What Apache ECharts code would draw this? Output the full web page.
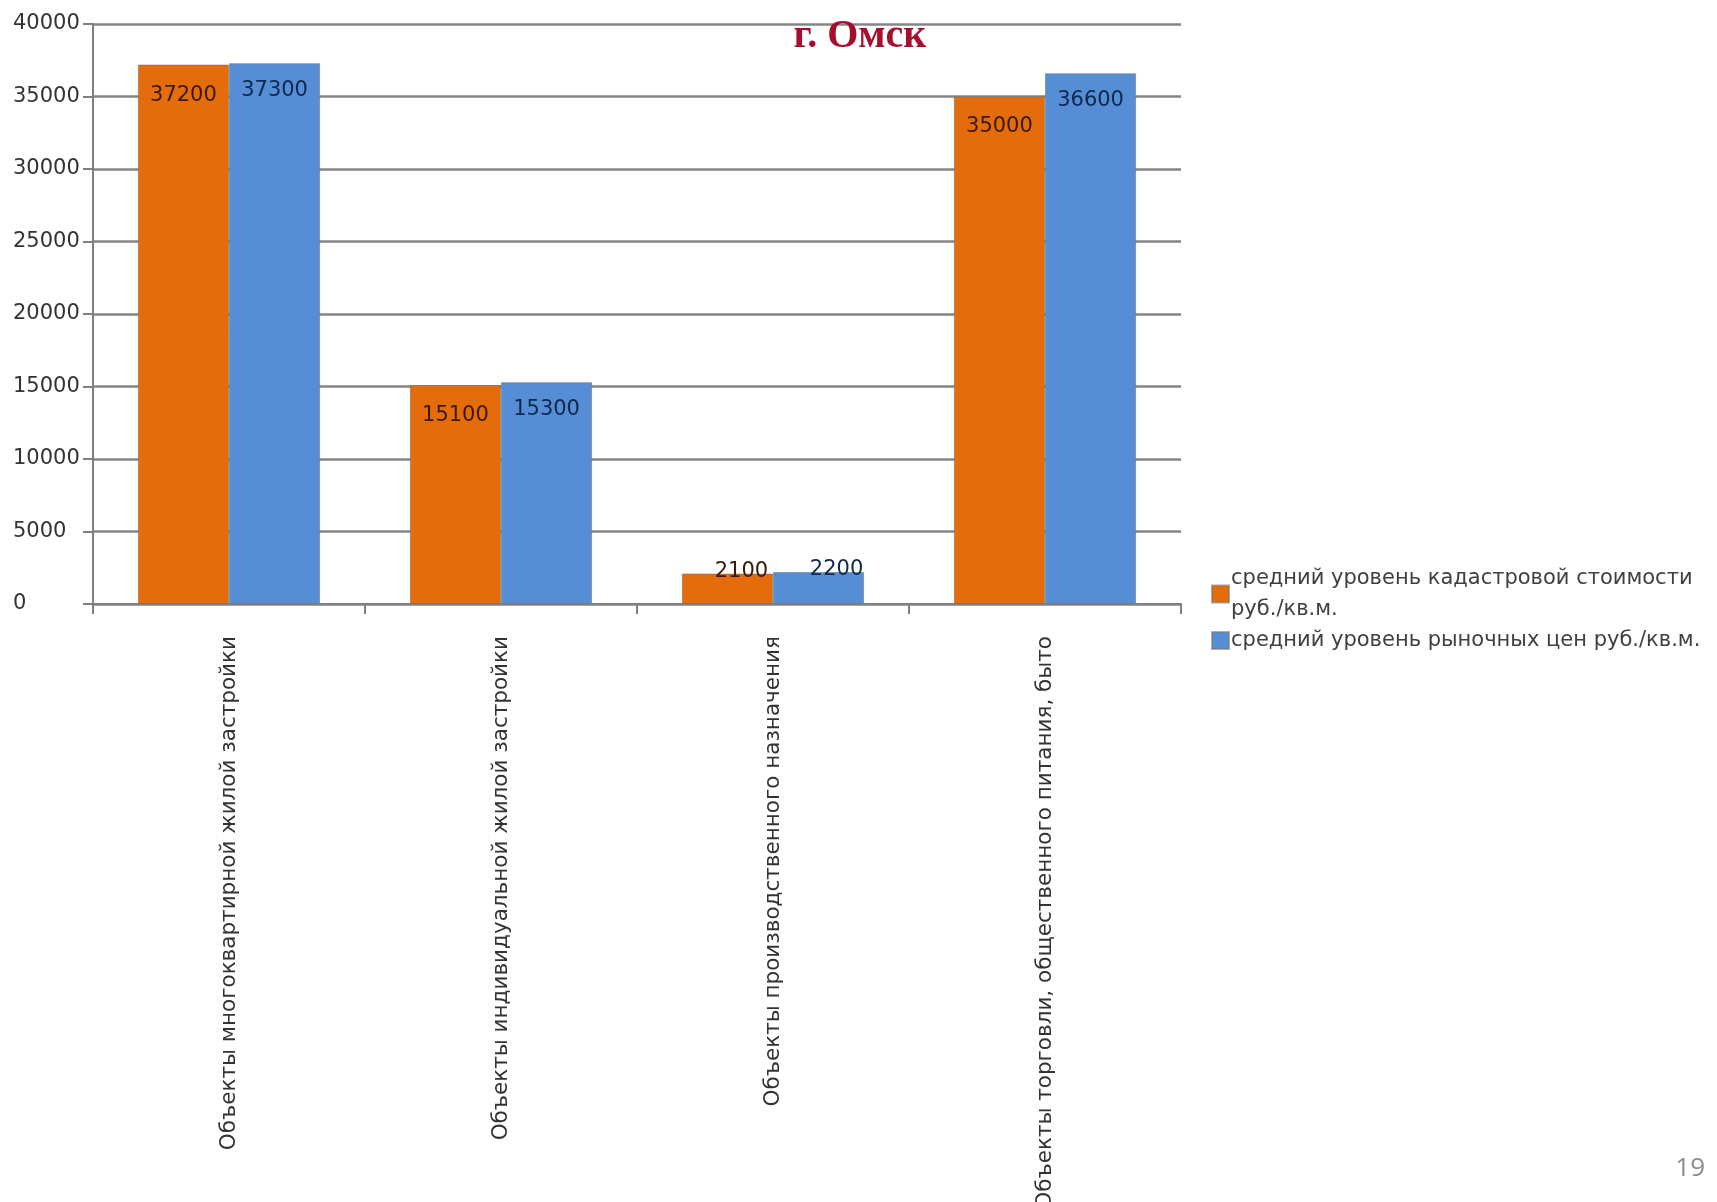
<!DOCTYPE html>
<html>
<head>
<meta charset="utf-8">
<script src="https://cdn.jsdelivr.net/npm/echarts@6/dist/echarts.min.js"></script>
<style>
html,body{margin:0;padding:0;background:#fff;}
#chart{width:1717px;height:1202px;}
</style>
</head>
<body>
<div id="chart"></div>
<script>
const titleText = 'г. Омск';
const categories = [
  'Объекты многоквартирной жилой застройки',
  'Объекты индивидуальной жилой застройки',
  'Объекты производственного назначения',
  'Объекты торговли, общественного питания, быто'
];
const seriesNames = [
  'средний уровень кадастровой стоимости руб./кв.м.',
  'средний уровень рыночных цен руб./кв.м.'
];
const cadastral = [37200, 15100, 2100, 35000];
const market = [37300, 15300, 2200, 36600];
const yTicks = [0, 5000, 10000, 15000, 20000, 25000, 30000, 35000, 40000];
const pageNumber = '19';

const FONT = 'DejaVu Sans';

function buildData(values, labelColor, smallOffset) {
  return values.map(v => {
    if (v < 5000) {
      return {
        value: v,
        label: { position: 'top', distance: -8, offset: [smallOffset, 0], color: labelColor }
      };
    }
    return { value: v };
  });
}

const chart = echarts.init(document.getElementById('chart'));
chart.setOption({
  animation: false,
  backgroundColor: '#ffffff',
  title: {
    text: titleText,
    left: 855,
    top: 12,
    textAlign: 'center',
    textStyle: {
      fontFamily: 'Liberation Serif',
      fontWeight: 'bold',
      fontSize: 40,
      color: '#A50F2D'
    }
  },
  legend: {
    orient: 'vertical',
    left: 1206,
    top: 558,
    itemGap: 0,
    itemWidth: 17,
    itemHeight: 17,
    icon: 'rect',
    data: seriesNames,
    formatter: function (name) {
      return name === seriesNames[0]
        ? 'средний уровень кадастровой стоимости\nруб./кв.м.'
        : name;
    },
    textStyle: {
      fontFamily: FONT,
      fontSize: 21,
      lineHeight: 31,
      color: '#404040',
      padding: [0, 0, 0, -3]
    }
  },
  grid: { left: 93, top: 24, width: 1088, height: 580, containLabel: false, outerBoundsMode: 'none' },
  xAxis: {
    type: 'category',
    data: categories,
    axisLine: { show: true, lineStyle: { color: '#7f7f7f', width: 2 } },
    axisTick: { show: true, alignWithLabel: false, length: 10, lineStyle: { color: '#7f7f7f', width: 2 } },
    axisLabel: {
      rotate: 90,
      interval: 0,
      margin: 32,
      fontFamily: FONT,
      fontSize: 21.5,
      color: '#333333'
    }
  },
  yAxis: {
    type: 'value',
    min: yTicks[0],
    max: yTicks[yTicks.length - 1],
    interval: yTicks[1] - yTicks[0],
    axisLine: { show: true, lineStyle: { color: '#7f7f7f', width: 2 } },
    axisTick: { show: true, length: 10, lineStyle: { color: '#7f7f7f', width: 2 } },
    splitLine: { show: true, lineStyle: { color: '#858585', width: 2.5 } },
    axisLabel: {
      align: 'left',
      margin: 80,
      fontFamily: FONT,
      fontSize: 21,
      color: '#333333',
      formatter: function (v) { return String(v); }
    }
  },
  series: [
    {
      name: seriesNames[0],
      type: 'bar',
      barGap: '0%',
      barCategoryGap: '33%',
      data: buildData(cadastral, '#3b1a05', 14),
      itemStyle: { color: '#E46C0A', borderColor: 'rgba(130,110,100,0.6)', borderWidth: 1 },
      label: {
        show: true,
        position: 'insideTop',
        distance: 20,
        fontFamily: FONT,
        fontSize: 21,
        color: '#3b1a05'
      }
    },
    {
      name: seriesNames[1],
      type: 'bar',
      data: buildData(market, '#0f2850', 18),
      itemStyle: { color: '#558ED5', borderColor: 'rgba(120,120,130,0.6)', borderWidth: 1 },
      label: {
        show: true,
        position: 'insideTop',
        distance: 17,
        fontFamily: FONT,
        fontSize: 21,
        color: '#0f2850'
      }
    }
  ],
  graphic: [
    {
      type: 'text',
      right: 12,
      top: 1156,
      style: {
        text: pageNumber,
        fontFamily: 'Open Sans',
        fontSize: 26,
        fill: '#8c8c8c'
      }
    }
  ]
});
</script>
</body>
</html>
